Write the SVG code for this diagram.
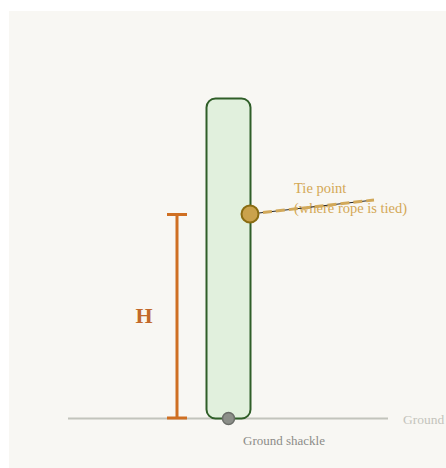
<svg xmlns="http://www.w3.org/2000/svg" width="446" height="468" viewBox="0 0 446 468">
<style>
text { font-family: "Liberation Serif", "DejaVu Serif", serif; }
.tie { fill: #d4a855; font-size: 14.5px; }
.gray { fill: #8c8c88; font-size: 13px; }
.ground { fill: #c4c4bc; font-size: 13.5px; }
.dim { stroke: #cf6f22; stroke-width: 3; }
</style>
<rect x="9" y="11" width="437" height="457" fill="#f8f7f3"/>
<g id="ground">
<line x1="68" y1="418.5" x2="388" y2="418.5" stroke="#c2c4bc" stroke-width="2"/>
<text class="ground" x="403" y="424">Ground</text>
</g>
<g id="pole">
<rect x="206.5" y="98.5" width="44" height="320" rx="9" fill="#e1f0dd" stroke="#2f5e28" stroke-width="2"/>
</g>
<g id="tie-label">
<text class="tie" x="294" y="193">Tie point</text>
<text class="tie" x="294" y="213">(where rope is tied)</text>
</g>
<g id="connectors">
<line x1="250" y1="214" x2="374" y2="200" stroke="#222" stroke-width="1"/>
<line x1="250" y1="214" x2="374" y2="200" stroke="#d2a95a" stroke-width="3" stroke-dasharray="9 4"/>
</g>
<g id="tie-point">
<circle cx="250" cy="214" r="8.5" fill="#caa24c" stroke="#8a6c12" stroke-width="2"/>
</g>
<g id="shackle">
<circle cx="228.5" cy="418.5" r="6" fill="#8c8f89" stroke="#6a6d68" stroke-width="1.5"/>
<text class="gray" x="243" y="445">Ground shackle</text>
</g>
<g id="height">
<line class="dim" x1="177" y1="214" x2="177" y2="418"/>
<line class="dim" x1="167" y1="214.5" x2="187" y2="214.5"/>
<line class="dim" x1="167" y1="418" x2="187" y2="418"/>
<text x="144" y="323" font-size="22" font-weight="bold" fill="#c2692a" text-anchor="middle">H</text>
</g>
</svg>
